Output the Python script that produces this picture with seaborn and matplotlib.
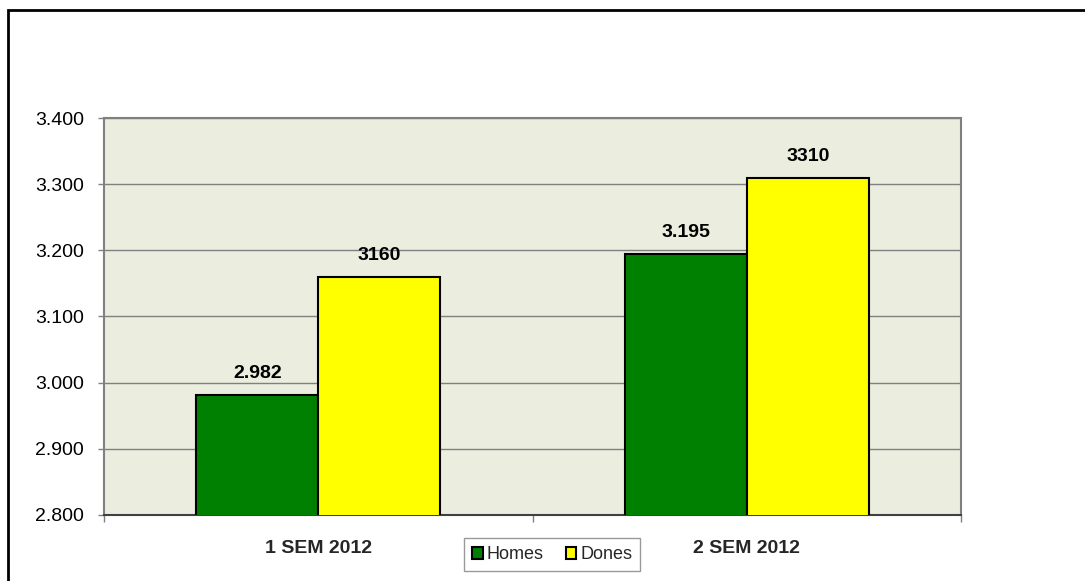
import numpy as np
import pandas as pd
import seaborn as sns
import matplotlib.pyplot as plt
from matplotlib.patches import Rectangle
from matplotlib.ticker import FuncFormatter

# Data.
periods = ["1 SEM 2012", "2 SEM 2012"]
series = ["Homes", "Dones"]
homes = [2982, 3195]
dones = [3160, 3310]
value_labels = {"Homes": ["2.982", "3.195"], "Dones": ["3160", "3310"]}

df = pd.DataFrame({
    "period": periods * 2,
    "group": ["Homes"] * 2 + ["Dones"] * 2,
    "value": homes + dones,
})

sns.set_theme(style="white")
plt.rcParams["font.family"] = ["Liberation Sans", "DejaVu Sans"]

fig = plt.figure(figsize=(10.85, 5.81), dpi=100)
ax = fig.add_axes([0.0959, 0.1136, 0.7898, 0.6833])

sns.barplot(data=df, x="period", y="value", hue="group", hue_order=series,
            palette=["#008000", "#FFFF00"], width=0.57, gap=0,
            edgecolor="black", linewidth=1.5, saturation=1, ax=ax, zorder=3)

# Value labels above bars.
for cont, name in zip(ax.containers, series):
    ax.bar_label(cont, labels=value_labels[name], padding=9,
                 fontsize=14, fontweight="bold", color="black")

ax.set_facecolor("#EBEDDF")
ax.set_ylim(2800, 3400)
ax.set_yticks(np.arange(2800, 3401, 100))
ax.yaxis.set_major_formatter(FuncFormatter(lambda v, p: f"{int(v):,}".replace(",", ".")))
ax.grid(axis="y", color="#808080", linewidth=1, zorder=0)
ax.set_axisbelow(True)
ax.set_xlim(-0.5, 1.5)
ax.set_xlabel("")
ax.set_ylabel("")

# Category labels at centres, tick marks at category boundaries.
ax.set_xticks([0, 1])
ax.set_xticklabels(periods, fontsize=14, fontweight="bold")
ax.tick_params(axis="x", length=0, pad=18)
ax.set_xticks([-0.5, 0.5, 1.5], minor=True)
ax.tick_params(axis="x", which="minor", bottom=True, length=5, color="#808080", width=1)
ax.tick_params(axis="y", left=True, length=4.5, color="#808080", width=1,
               labelsize=14, labelcolor="black", pad=10)

for side in ["top", "right", "left"]:
    ax.spines[side].set_color("#808080")
    ax.spines[side].set_linewidth(1.5)
ax.spines["bottom"].set_color("#404040")
ax.spines["bottom"].set_linewidth(1.5)

ax.get_legend().remove()
handles, labels = ax.get_legend_handles_labels()
fig.legend(handles, labels, loc="center", bbox_to_anchor=(0.509, 0.045), ncol=2,
           frameon=True, fancybox=False, edgecolor="#808080", fontsize=13,
           handlelength=0.6, handleheight=0.6, handletextpad=0.2, columnspacing=1.2,
           borderpad=0.45, borderaxespad=0)

# Outer chart frame.
fig.patches.append(Rectangle((8 / 1085, -0.05), 1.2, 0.983 + 0.05, transform=fig.transFigure,
                             fill=False, edgecolor="black", linewidth=2))

fig.savefig("out.png", dpi=100)
